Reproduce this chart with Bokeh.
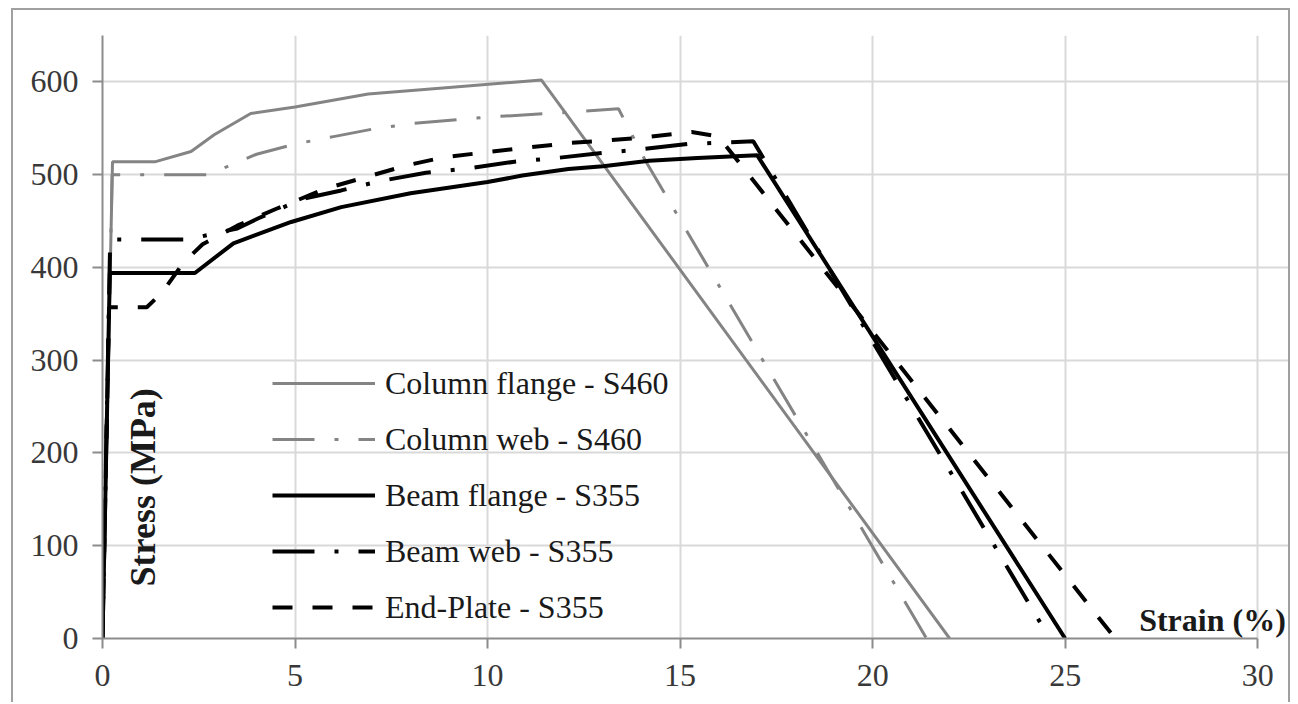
import math
from bokeh.plotting import figure
from bokeh.models import Legend, LegendItem, Label, FixedTicker, Range1d
from bokeh.embed import file_html
from bokeh.resources import INLINE

# ---- data (strain %, stress MPa) ----
col_flange_x = [0, 0.26, 1.38, 2.3, 2.9, 3.85, 5.0, 6.9, 9.0, 11.4, 22.0]
col_flange_y = [0, 514, 514, 525, 543, 566, 573, 587, 594, 602, 0]

col_web_x = [0, 0.25, 2.8, 3.3, 4.0, 5.0, 6.0, 7.0, 8.0, 10.0, 12.0, 13.4, 14.1, 21.4]
col_web_y = [0, 500, 500, 510, 522, 533, 541, 549, 555, 562, 567, 571, 515, 0]

beam_flange_x = [0, 0.19, 2.4, 3.4, 4.9, 6.2, 8.0, 10.0, 10.9, 12.1, 13.0, 14.2, 15.45, 17.0, 25.0]
beam_flange_y = [0, 394, 394, 426, 449, 465, 480, 492, 499, 506, 509, 515, 518, 521, 0]

beam_web_x = [0, 0.2, 2.2, 3.5, 4.05, 5.2, 6.2, 7.2, 8.4, 9.55, 10.7, 11.8, 12.9, 13.9, 15.2, 16.9, 24.6]
beam_web_y = [0, 430, 430, 442, 453, 474, 483, 493, 502, 507, 514, 518, 523, 527, 533, 536, 0]

end_plate_x = [0, 0.17, 1.15, 1.55, 2.1, 2.6, 3.5, 4.5, 5.8, 7.9, 8.9, 9.95, 11.0, 12.1, 13.1, 14.05, 15.3, 16.0, 26.3]
end_plate_y = [0, 357, 357, 373, 405, 425, 445, 463, 485, 510, 519, 524, 529, 534, 537, 540, 546, 541, 0]

series_names = ["Column flange - S460", "Column web - S460", "Beam flange - S355",
                "Beam web - S355", "End-Plate - S355"]
x_ticks = [0, 5, 10, 15, 20, 25, 30]
y_ticks = [0, 100, 200, 300, 400, 500, 600]

GRAY = "#848484"
SERIF = "Liberation Serif"

p = figure(width=1279, height=694, x_range=Range1d(0, 30.8), y_range=Range1d(0, 650),
           output_backend="svg", toolbar_location=None,
           min_border_left=89, min_border_right=4, min_border_top=25, min_border_bottom=66)
p.outline_line_color = None
p.background_fill_color = "white"
p.border_fill_color = "white"
p.styles = {"margin-left": "11px", "margin-top": "8px",
            "border-left": "2px solid #a0a0a0", "border-top": "2px solid #a0a0a0",
            "border-right": "2px solid #a0a0a0"}

p.xaxis.ticker = FixedTicker(ticks=x_ticks)
p.yaxis.ticker = FixedTicker(ticks=y_ticks)
p.xaxis.bounds = (0, 30)
p.ygrid.bounds = (0, 30)
p.grid.grid_line_color = "#d9d9d9"
p.grid.grid_line_width = 2

p.axis.axis_line_color = "#8c8c8c"
p.axis.axis_line_width = 2
p.axis.major_tick_line_color = "#8c8c8c"
p.axis.major_tick_line_width = 2
p.axis.major_tick_out = 10
p.axis.major_tick_in = 0
p.axis.minor_tick_out = 0
p.axis.minor_tick_in = 0
p.axis.major_label_text_font = SERIF
p.axis.major_label_text_font_size = "32px"
p.axis.major_label_text_color = "#383838"
p.xaxis.major_label_standoff = 16
p.yaxis.major_label_standoff = 14

r1 = p.line(col_flange_x, col_flange_y, line_color=GRAY, line_width=3)
r2 = p.line(col_web_x, col_web_y, line_color=GRAY, line_width=3, line_dash="42 20 4 20")
r3 = p.line(beam_flange_x, beam_flange_y, line_color="black", line_width=4)
r4 = p.line(beam_web_x, beam_web_y, line_color="black", line_width=4, line_dash="42 20 4 20")
r5 = p.line(end_plate_x, end_plate_y, line_color="black", line_width=4, line_dash="20 20")

legend = Legend(items=[LegendItem(label=n, renderers=[r]) for n, r in
                       zip(series_names, [r1, r2, r3, r4, r5])],
                location=(170, 8), glyph_width=103, glyph_height=46, spacing=10,
                padding=0, margin=0, label_standoff=10, border_line_color=None,
                background_fill_alpha=0, label_text_font=SERIF,
                label_text_font_size="32px", label_text_color="#1a1a1a")
p.add_layout(legend)

p.add_layout(Label(x=1.05, y=163, text="Stress (MPa)", angle=math.pi / 2,
                   text_align="center", text_baseline="middle", text_font=SERIF,
                   text_font_style="bold", text_font_size="36px", text_color="#1a1a1a"))
p.add_layout(Label(x=30.73, y=1, text="Strain (%)", text_align="right",
                   text_baseline="bottom", text_font=SERIF, text_font_style="bold",
                   text_font_size="32px", text_color="#1a1a1a"))

open("out.html", "w").write(file_html(p, INLINE))
